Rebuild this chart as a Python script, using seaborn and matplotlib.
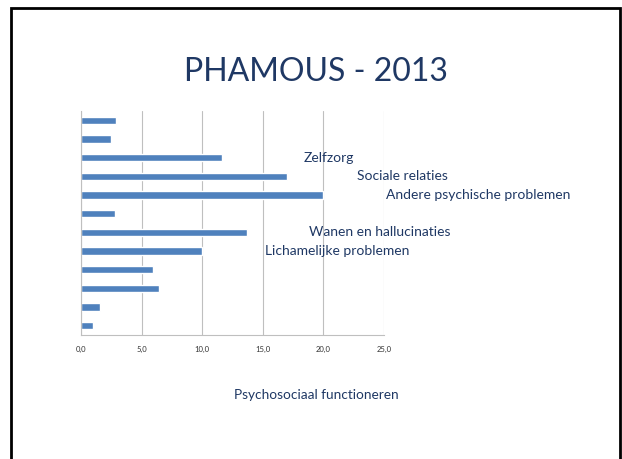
import pandas as pd
import matplotlib.pyplot as plt
import matplotlib.patches as patches
import seaborn as sns

# Values (top bar first)
items = ["1", "2", "3", "4", "5", "6", "7", "8", "9", "10", "11", "12"]
scores = [2.9, 2.5, 11.6, 17.0, 20.0, 2.8, 13.7, 10.0, 5.9, 6.4, 1.6, 1.0]
names = ["", "", "Zelfzorg", "Sociale relaties", "Andere psychische problemen", "",
         "Wanen en hallucinaties", "Lichamelijke problemen", "", "", "", ""]
name_x = [0, 0, 18.4, 22.8, 25.2, 0, 18.8, 15.2, 0, 0, 0, 0]
xticks = [0, 5, 10, 15, 20, 25]

df = pd.DataFrame({"item": items, "score": scores})

sns.set_style("white")
plt.rcParams["font.family"] = ["Lato", "DejaVu Sans"]

text_col = "#1F3864"
fig = plt.figure(figsize=(6.22, 4.59), dpi=100)
ax = fig.add_axes([0.1302, 0.2702, 0.4872, 0.488])

sns.barplot(data=df, x="score", y="item", order=items, orient="h",
            color="#4F81BD", saturation=1, width=0.4, ax=ax)

ax.set_xlim(0, 25)
ax.set_xticks(xticks)
ax.set_xticklabels([f"{t:.1f}".replace(".", ",") for t in xticks], fontsize=5.5, color="#333333")
ax.tick_params(axis="x", length=0, pad=8)
ax.set_yticks([])
ax.set_xlabel("")
ax.set_ylabel("")
ax.grid(axis="x", color="#BFBFBF", linewidth=0.8)
ax.set_axisbelow(True)
for s in ["top", "right"]:
    ax.spines[s].set_visible(False)
ax.spines["left"].set_color("#BFBFBF")
ax.spines["bottom"].set_color("#BFBFBF")

# category labels floating beside the bars
for i, (n, xp) in enumerate(zip(names, name_x)):
    if n:
        ax.text(xp, i, n, fontsize=10, color=text_col, va="center", ha="left", clip_on=False)

fig.text(0.508, 0.843, "PHAMOUS - 2013", fontsize=23, color=text_col, ha="center", va="center")
fig.text(0.508, 0.140, "Psychosociaal functioneren", fontsize=9.8, color=text_col, ha="center", va="center")

# slide frame
fig.patches.append(patches.Rectangle((11 / 622, -0.05), 609 / 622, 1.05 - 8 / 459,
                                     transform=fig.transFigure, fill=False,
                                     edgecolor="black", linewidth=2))

fig.savefig("out.png", dpi=100)
